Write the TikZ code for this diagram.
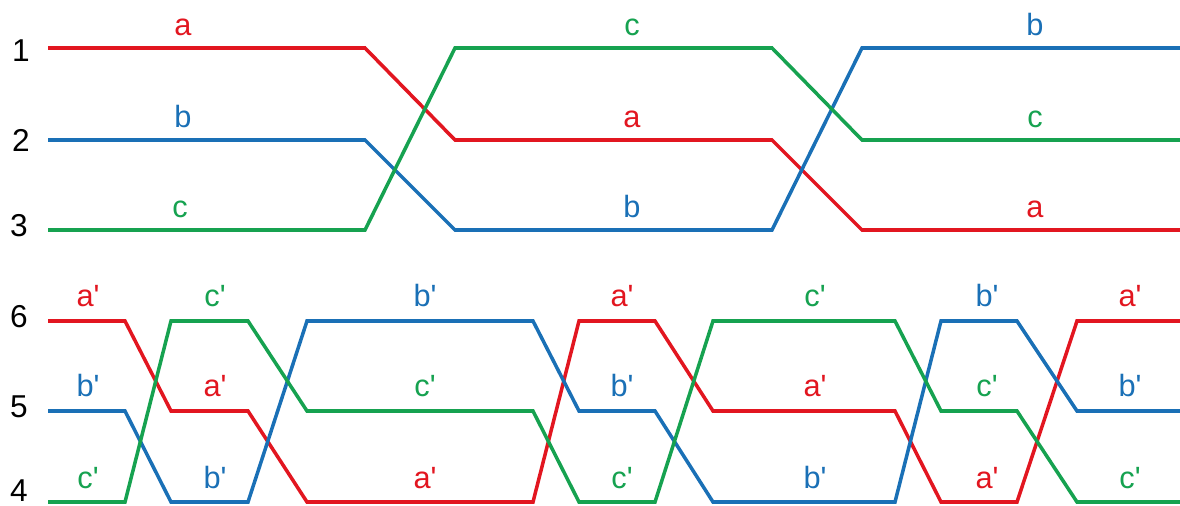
\documentclass[tikz,border=0pt]{standalone}
\usepackage{fontspec}
\setmainfont{Liberation Sans}
\newfontfamily\plainsans{Liberation Sans}
\definecolor{wred}{RGB}{226,22,32}
\definecolor{wblue}{RGB}{26,112,182}
\definecolor{wgreen}{RGB}{22,162,80}
\usetikzlibrary{positioning}

\begin{document}
\begin{tikzpicture}[x=0.02cm,y=-0.02cm,
  wire/.style={line width=2pt,line join=miter},
  lbl/.style={font=\plainsans\fontsize{17.5}{19}\selectfont,anchor=base,inner sep=0pt},
  row/.style={font=\plainsans\fontsize{18}{20}\selectfont,inner sep=0pt}]
  \useasboundingbox (0,0) rectangle (1180,506);
  % Row heights
  \def\ya{48}
  \def\yb{140}
  \def\yc{230}
  \def\yf{321}
  \def\ye{411}
  \def\yd{502}
  % Row numbers
  \node[row] (r1) at (21,\ya+3) {1};
  \node[row] (r2) at (21,\yb) {2};
  \node[row] (r3) at (19,\yc-4) {3};
  \node[row] (r6) at (19,\yf-4) {6};
  \node[row] (r5) at (19,\ye-4) {5};
  \node[row] (r4) at (19,\yd-11) {4};
  % Upper wires
  \draw[wire,wred] (48,\ya) -- (365,\ya) -- (455,\yb) -- (772,\yb) -- (862,\yc) -- (1180,\yc);
  \draw[wire,wblue] (48,\yb) -- (365,\yb) -- (455,\yc) -- (772,\yc) -- (862,\ya) -- (1180,\ya);
  \draw[wire,wgreen] (48,\yc) -- (365,\yc) -- (455,\ya) -- (772,\ya) -- (862,\yb) -- (1180,\yb);
  % Upper labels
  \node[lbl,wred] (ta1) at (183,\ya-12) {a};
  \node[lbl,wblue] (tb1) at (183,\yb-12) {b};
  \node[lbl,wgreen] (tc1) at (180,\yc-12) {c};
  \node[lbl,wgreen] (tc2) at (632,\ya-12) {c};
  \node[lbl,wred] (ta2) at (632,\yb-12) {a};
  \node[lbl,wblue] (tb2) at (632,\yc-12) {b};
  \node[lbl,wblue] (tb3) at (1035,\ya-12) {b};
  \node[lbl,wgreen] (tc3) at (1035,\yb-12) {c};
  \node[lbl,wred] (ta3) at (1035,\yc-12) {a};
  % Lower wires
  \draw[wire,wred] (48,\yf) -- (125,\yf) -- (171,\ye) -- (248,\ye) -- (307,\yd)
    -- (533,\yd) -- (579,\yf) -- (655,\yf) -- (713,\ye) -- (895,\ye) -- (941,\yd)
    -- (1017,\yd) -- (1077,\yf) -- (1180,\yf);
  \draw[wire,wblue] (48,\ye) -- (125,\ye) -- (171,\yd) -- (248,\yd) -- (307,\yf)
    -- (533,\yf) -- (579,\ye) -- (655,\ye) -- (713,\yd) -- (895,\yd) -- (941,\yf)
    -- (1017,\yf) -- (1077,\ye) -- (1180,\ye);
  \draw[wire,wgreen] (48,\yd) -- (125,\yd) -- (171,\yf) -- (248,\yf) -- (307,\ye)
    -- (533,\ye) -- (579,\yd) -- (655,\yd) -- (713,\yf) -- (895,\yf) -- (941,\ye)
    -- (1017,\ye) -- (1077,\yd) -- (1180,\yd);
  % Lower labels: top / middle / bottom row per stretch
  \foreach \x/\lf/\cf/\le/\ce/\ld/\cd [count=\k] in {
      88/a/wred/b/wblue/c/wgreen,
      215/c/wgreen/a/wred/b/wblue,
      425/b/wblue/c/wgreen/a/wred,
      622/a/wred/b/wblue/c/wgreen,
      815/c/wgreen/a/wred/b/wblue,
      987/b/wblue/c/wgreen/a/wred,
      1130/a/wred/b/wblue/c/wgreen}{
    \node[lbl,\cf] (s\k f) at (\x,\yf-14) {\lf'};
    \node[lbl,\ce] (s\k e) at (\x,\ye-14) {\le'};
    \node[lbl,\cd] (s\k d) at (\x,\yd-14) {\ld'};
  }
\end{tikzpicture}
\end{document}
